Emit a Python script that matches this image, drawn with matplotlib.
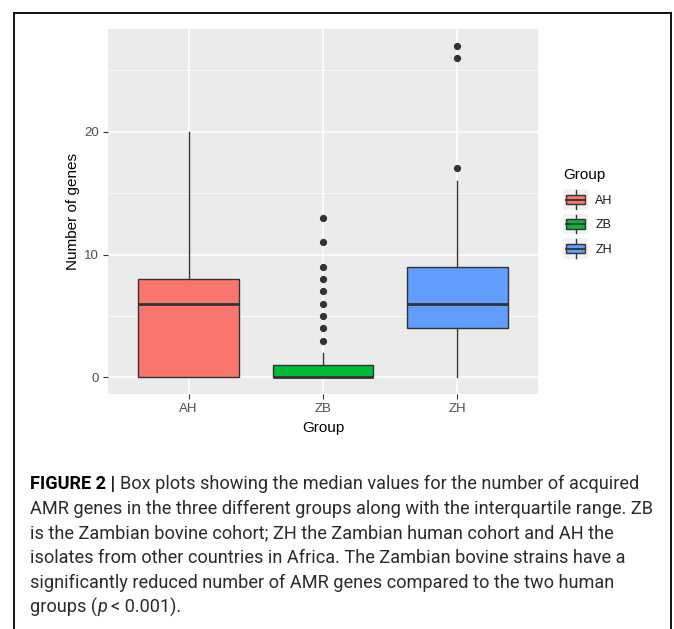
import numpy as np
import matplotlib
matplotlib.use("Agg")
import matplotlib.pyplot as plt
from matplotlib import font_manager
from matplotlib.lines import Line2D
from matplotlib.patches import Rectangle
from matplotlib.legend_handler import HandlerBase

plt.rcParams["font.family"] = ["Liberation Sans", "DejaVu Sans"]

# data
groups = ["AH", "ZB", "ZH"]
colors = ["#F8766D", "#00BA38", "#619CFF"]
whislo = [0, 0, 0]
q1 = [0, 0, 4]
med = [6, 0, 6]
q3 = [8, 1, 9]
whishi = [20, 2, 16]
fliers = [[], [3, 4, 5, 6, 7, 8, 9, 11, 13], [17, 26, 27]]

caption_lines = [
    "Box plots showing the median values for the number of acquired",
    "AMR genes in the three different groups along with the interquartile range. ZB",
    "is the Zambian bovine cohort; ZH the Zambian human cohort and AH the",
    "isolates from other countries in Africa. The Zambian bovine strains have a",
    "significantly reduced number of AMR genes compared to the two human",
    "groups (",
]

W, H = 674, 629
fig = plt.figure(figsize=(W / 100, H / 100), dpi=100)
fig.patch.set_facecolor("white")

# panel
ax = fig.add_axes([108 / W, 1 - 394 / H, 430 / W, 365 / H])
ax.set_facecolor("#EBEBEB")
for s in ax.spines.values():
    s.set_visible(False)

stats = []
for i, g in enumerate(groups):
    stats.append(dict(label=g, whislo=whislo[i], q1=q1[i], med=med[i],
                      q3=q3[i], whishi=whishi[i], fliers=fliers[i]))

pos = np.arange(1, len(groups) + 1)
bp = ax.bxp(stats, positions=pos, widths=0.75, patch_artist=True,
            showcaps=False, zorder=3,
            boxprops=dict(edgecolor="#333333", linewidth=1.0),
            medianprops=dict(color="#333333", linewidth=2.0),
            whiskerprops=dict(color="#333333", linewidth=1.0),
            flierprops=dict(marker="o", markersize=4.2, markerfacecolor="#333333",
                            markeredgecolor="#333333"))
for patch, c in zip(bp["boxes"], colors):
    patch.set_facecolor(c)

ax.set_xlim(0.4, 3.6)
ax.set_ylim(-1.35, 28.35)
ax.set_yticks([0, 10, 20])
ax.set_yticks([5, 15, 25], minor=True)
ax.set_xticks(pos)
ax.set_xticklabels(groups)
ax.grid(True, which="major", color="white", linewidth=1.1, zorder=0)
ax.grid(True, which="minor", axis="y", color="white", linewidth=0.55, zorder=0)
ax.set_axisbelow(True)
ax.tick_params(axis="both", which="major", length=3.5, width=0.8, color="#333333",
               labelcolor="#4D4D4D", labelsize=9.5, pad=3)
ax.tick_params(axis="both", which="minor", length=0)
ax.set_xlabel("Group", fontsize=11, color="black", labelpad=4)
ax.set_ylabel("Number of genes", fontsize=11, color="black", labelpad=3)


# legend keys drawn as little boxplots
class BoxKey(HandlerBase):
    def __init__(self, color):
        super().__init__()
        self.color = color

    def create_artists(self, legend, orig_handle, xdescent, ydescent, width,
                       height, fontsize, trans):
        x0, y0 = -xdescent, -ydescent
        bg = Rectangle((x0, y0 - 3), width, height + 6, facecolor="#F2F2F2",
                       edgecolor="none", transform=trans)
        bx = Rectangle((x0 + 2, y0 + height * 0.12), width - 4, height * 0.76,
                       facecolor=self.color, edgecolor="#333333", lw=1.0,
                       transform=trans)
        wl = Line2D([x0 + width / 2] * 2, [y0 - 2.5, y0 + height + 2.5],
                    color="#333333", lw=1.0, transform=trans)
        md = Line2D([x0 + 2, x0 + width - 2], [y0 + height / 2] * 2,
                    color="#333333", lw=1.3, transform=trans)
        return [bg, wl, bx, md]


handles = [Rectangle((0, 0), 1, 1) for _ in groups]
hmap = {h: BoxKey(c) for h, c in zip(handles, colors)}
leg = fig.legend(handles, groups, handler_map=hmap, title="Group",
                 loc="upper left", bbox_to_anchor=(552 / W, 1 - 157 / H),
                 frameon=False, fontsize=9, title_fontsize=11,
                 handlelength=2.0, handleheight=1.1, handletextpad=0.55,
                 labelspacing=0.9, alignment="left")
for t in leg.get_texts():
    t.set_color("#1a1a1a")

# figure frame
fr = dict(color="#111111", lw=1.4, transform=fig.transFigure)
fig.add_artist(Line2D([14 / W, 14 / W], [0, 1 - 13 / H], **fr))
fig.add_artist(Line2D([14 / W, 671 / W], [1 - 13 / H, 1 - 13 / H], **fr))
fig.add_artist(Line2D([671 / W, 671 / W], [0, 1 - 13 / H], **fr))

# caption
names = {f.name for f in font_manager.fontManager.ttflist}
cap_font = "Roboto" if "Roboto" in names else "Liberation Sans"
cap_weight = "normal"
cap_size = 13
x_left = 30
line_y = [484, 509, 533, 558, 583, 607]

renderer = fig.canvas.get_renderer()


def px(t):
    return t.get_window_extent(renderer=renderer).width


# fit the longest line so it ends near x=650
probe = fig.text(0, 0, caption_lines[1], fontsize=cap_size, family=cap_font,
                 fontweight=cap_weight)
wide = px(probe)
probe.remove()
cap_size = cap_size * (650 - x_left) / wide

for i, (line, y) in enumerate(zip(caption_lines, line_y)):
    x = x_left
    yy = 1 - y / H
    if i == 0:
        tb = fig.text(x / W, yy, "FIGURE 2 | ", fontsize=cap_size, family=cap_font,
                      fontweight="bold", va="center", color="black")
        x += px(tb)
    t = fig.text(x / W, yy, line, fontsize=cap_size, family=cap_font,
                 fontweight=cap_weight, va="center", color="#2B2B2B")
    if i == len(caption_lines) - 1:
        x += px(t)
        t2 = fig.text(x / W, yy, "p", fontsize=cap_size, family=cap_font,
                      fontweight=cap_weight, style="italic", va="center",
                      color="#2B2B2B")
        x += px(t2) + 4
        fig.text(x / W, yy, "< 0.001).", fontsize=cap_size, family=cap_font,
                 fontweight=cap_weight, va="center", color="#2B2B2B")

fig.savefig("out.png", dpi=100)
